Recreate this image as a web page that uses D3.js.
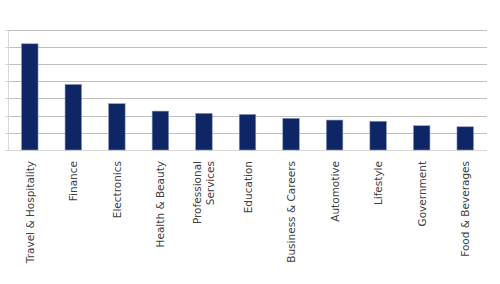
<!DOCTYPE html>
<html><head><meta charset="utf-8">
<script src="https://cdn.jsdelivr.net/npm/d3@7"></script>
<style>body{margin:0;background:#fff}svg{display:block}</style>
</head><body>
<script>
const categories = ["Travel & Hospitality","Finance","Electronics","Health & Beauty","Professional Services","Education","Business & Careers","Automotive","Lifestyle","Government","Food & Beverages"];
const values = [61.7, 38.1, 26.9, 22.6, 21.3, 20.7, 18.4, 17.4, 16.7, 14.1, 13.5];
const yTicks = [0,10,20,30,40,50,60,70];

(function(){
const W=500,H=284, mL=8, mR=487, mT=29.5, mB=150;
const svg=d3.select("body").append("svg").attr("width",W).attr("height",H);
const x=d3.scaleBand().domain(categories).range([mL,mR]).paddingInner(0.62).paddingOuter(0.31);
const y=d3.scaleLinear().domain([0,70]).range([mB,mT]);

svg.append("g").selectAll("line").data(yTicks).join("line")
  .attr("x1",mL).attr("x2",mR)
  .attr("y1",d=>Math.round(y(d))+0.5).attr("y2",d=>Math.round(y(d))+0.5)
  .attr("stroke",d=>d===0?"#d9d9d9":"#bfbfbf").attr("stroke-width",1);
svg.append("line").attr("x1",mL+0.5).attr("x2",mL+0.5).attr("y1",Math.round(mT)+0.5).attr("y2",mB+0.5).attr("stroke","#d9d9d9");
svg.append("g").selectAll("line").data(yTicks).join("line")
  .attr("x1",mL-3).attr("x2",mL)
  .attr("y1",d=>Math.round(y(d))+0.5).attr("y2",d=>Math.round(y(d))+0.5)
  .attr("stroke","#d9d9d9");

svg.append("g").selectAll("rect").data(values).join("rect")
  .attr("x",(d,i)=>x(categories[i])).attr("width",x.bandwidth())
  .attr("y",d=>y(d)).attr("height",d=>mB-y(d))
  .attr("fill","#0e2665").attr("stroke","#8e9cc0").attr("stroke-width",0.6);

const wrap={"Professional Services":["Professional","Services"]};
const lab=svg.append("g").attr("font-family","'DejaVu Sans', sans-serif").attr("font-size",10.5).attr("fill","#404040");
categories.forEach(c=>{
  const lines=wrap[c]||[c];
  const cx=x(c)+x.bandwidth()/2;
  const t=lab.append("text").attr("transform",`translate(${cx},161) rotate(-90)`).attr("text-anchor","end");
  const lh=13;
  lines.forEach((l,i)=>{
    t.append("tspan").attr("x",0).attr("y",(i-(lines.length-1)/2)*lh+4).text(l);
  });
});
})();
</script>
</body></html>
